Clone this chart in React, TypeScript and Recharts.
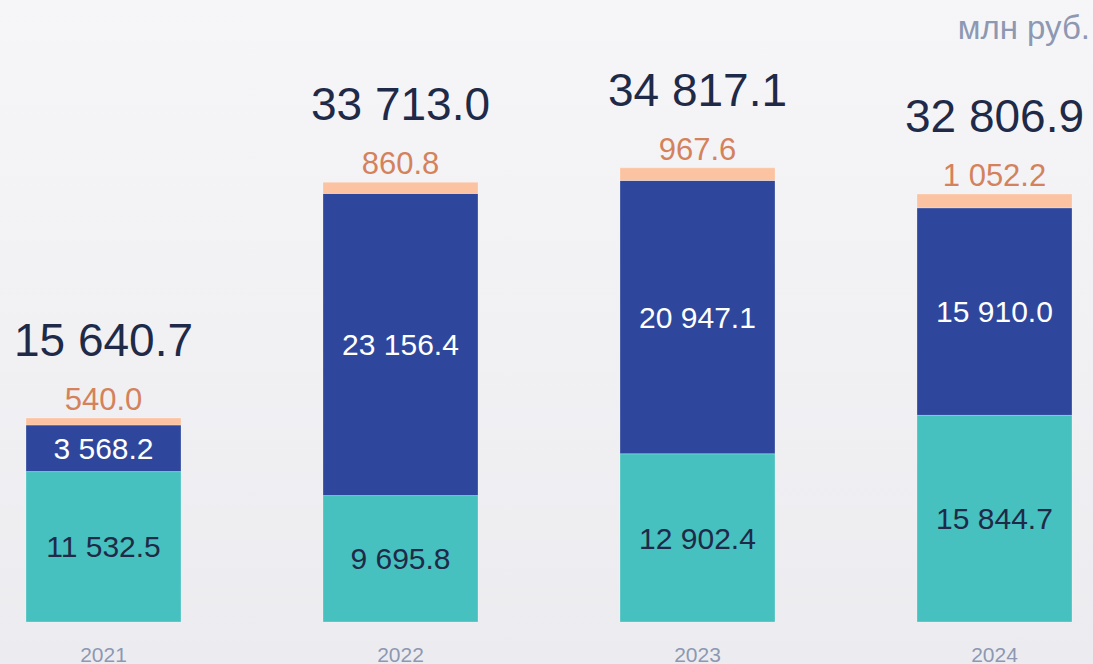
import { BarChart, Bar, XAxis, YAxis, LabelList } from 'recharts';

const years = ['2021', '2022', '2023', '2024'];
const baseValues = [11532.5, 9695.8, 12902.4, 15844.7];
const mainValues = [3568.2, 23156.4, 20947.1, 15910.0];
const otherValues = [540.0, 860.8, 967.6, 1052.2];
const totals = [15640.7, 33713.0, 34817.1, 32806.9];

const FONT = '"Liberation Sans", Arial, sans-serif';
const TEAL = '#47c1bf';
const BLUE = '#2e479c';
const PEACH = '#fbc3a1';
const DARK = '#1f2a48';
const PEACH_TEXT = '#d4825b';
const GRAY = '#8d98b2';

const chartData = years.map((year, i) => ({
  year,
  base: baseValues[i],
  main: mainValues[i],
  other: otherValues[i],
  total: totals[i],
}));

const fmt = (v: number) => {
  const [int, dec] = v.toFixed(1).split('.');
  return int.replace(/\B(?=(\d{3})+(?!\d))/g, ' ') + '.' + dec;
};

const TopLabels = (props: any) => {
  const { x, y, width, index } = props;
  const cx = Number(x) + Number(width) / 2;
  return (
    <g>
      <text x={cx} y={Number(y) - 8} textAnchor="middle" fill={PEACH_TEXT} fontSize={31} fontFamily={FONT}>
        {fmt(otherValues[index])}
      </text>
      <text x={cx} y={Number(y) - 62} textAnchor="middle" fill={DARK} fontSize={46} fontFamily={FONT}>
        {fmt(totals[index])}
      </text>
    </g>
  );
};

const YearTick = (props: any) => {
  const { x, y, payload } = props;
  return (
    <text x={x} y={Number(y) + 32} textAnchor="middle" fill={GRAY} fontSize={21} fontFamily={FONT}>
      {payload.value}
    </text>
  );
};

const App = () => {
  return (
    <div
      style={{
        position: 'absolute',
        top: 0,
        left: 0,
        width: 1093,
        height: 664,
        overflow: 'hidden',
        background: 'linear-gradient(180deg, #f6f6f8 0%, #ececf0 100%)',
        fontFamily: FONT,
      }}
    >
      <div
        style={{
          position: 'absolute',
          right: 3,
          top: 9,
          fontSize: 33,
          color: GRAY,
        }}
      >
        млн руб.
      </div>
      <div style={{ position: 'absolute', left: -45, top: 0 }}>
        <BarChart
          width={1188}
          height={664}
          data={chartData}
          margin={{ top: 22, right: 0, bottom: 12, left: 0 }}
          barSize={155}
        >
          <XAxis dataKey="year" axisLine={false} tickLine={false} tick={<YearTick />} interval={0} />
          <YAxis hide domain={[0, 46000]} />
          <Bar dataKey="base" stackId="a" fill={TEAL} stroke="#ffffff" strokeOpacity={0.25} isAnimationActive={false}>
            <LabelList dataKey="base" position="center" formatter={(v: any) => fmt(Number(v))} fill={DARK} fontSize={30} fontFamily={FONT} />
          </Bar>
          <Bar dataKey="main" stackId="a" fill={BLUE} stroke="#ffffff" strokeOpacity={0.25} isAnimationActive={false}>
            <LabelList dataKey="main" position="center" formatter={(v: any) => fmt(Number(v))} fill="#ffffff" fontSize={30} fontFamily={FONT} />
          </Bar>
          <Bar dataKey="other" stackId="a" fill={PEACH} stroke="#ffffff" strokeOpacity={0.25} isAnimationActive={false}>
            <LabelList dataKey="other" content={<TopLabels />} />
          </Bar>
        </BarChart>
      </div>
    </div>
  );
};

export default App;
